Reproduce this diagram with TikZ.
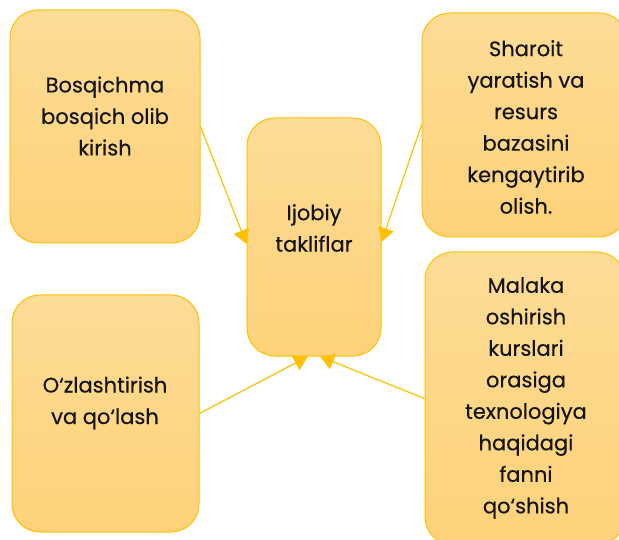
\documentclass[tikz,border=0pt]{standalone}
\usepackage{fontspec}
\setmainfont{Poppins}[FakeBold=0.35]
\usetikzlibrary{arrows.meta}
\definecolor{edge}{RGB}{255,192,0}
\definecolor{filltop}{RGB}{253,220,150}
\definecolor{fillbot}{RGB}{253,210,122}
\definecolor{ink}{RGB}{20,20,20}
\begin{document}
\begin{tikzpicture}[x=1pt,y=-1pt,
  box/.style={draw=edge, line width=1pt, rounded corners=28pt, top color=filltop, bottom color=fillbot, inner sep=0pt},
  txt/.style={align=center, text=ink, font=\fontsize{21}{31.5}\selectfont, inner sep=0pt},
  conn/.style={draw=edge, line width=1.2pt, -{Triangle[length=14pt,width=16pt]}}]
\useasboundingbox (0,0) rectangle (619,540);
\node[box, minimum width=190pt, minimum height=233pt] (tl) at (105,126.5) {};
\node[box, minimum width=134pt, minimum height=238pt] (ctr) at (314,237) {};
\node[box, minimum width=205pt, minimum height=224pt] (tr) at (524.5,125) {};
\node[box, minimum width=187pt, minimum height=237pt] (bl) at (105.5,413.5) {};
\node[box, minimum width=200pt, minimum height=293pt] (br) at (525,398.5) {};

\node[txt] (tltxt) at (105,116) {Bosqichma\\bosqich olib\\kirish};
\node[txt] (ctrtxt) at (314,228) {Ijobiy\\takliflar};
\node[txt] (trtxt) at (526,127) {Sharoit\\yaratish va\\resurs\\bazasini\\kengaytirib\\olish.};
\node[txt] (bltxt) at (105,403) {O‘zlashtirish\\va qo‘lash};
\node[txt] (brtxt) at (526,398) {Malaka\\oshirish\\kurslari\\orasiga\\texnologiya\\haqidagi\\fanni\\qo‘shish};

\draw[conn] (tl.east) -- ([yshift=-7pt]ctr.west);
\draw[conn] (tr.west) -- ([yshift=-5pt]ctr.east);
\draw[conn] (bl.east) -- ([xshift=-6pt]ctr.south);
\draw[conn] (br.west) -- ([xshift=6pt]ctr.south);
\end{tikzpicture}
\end{document}
